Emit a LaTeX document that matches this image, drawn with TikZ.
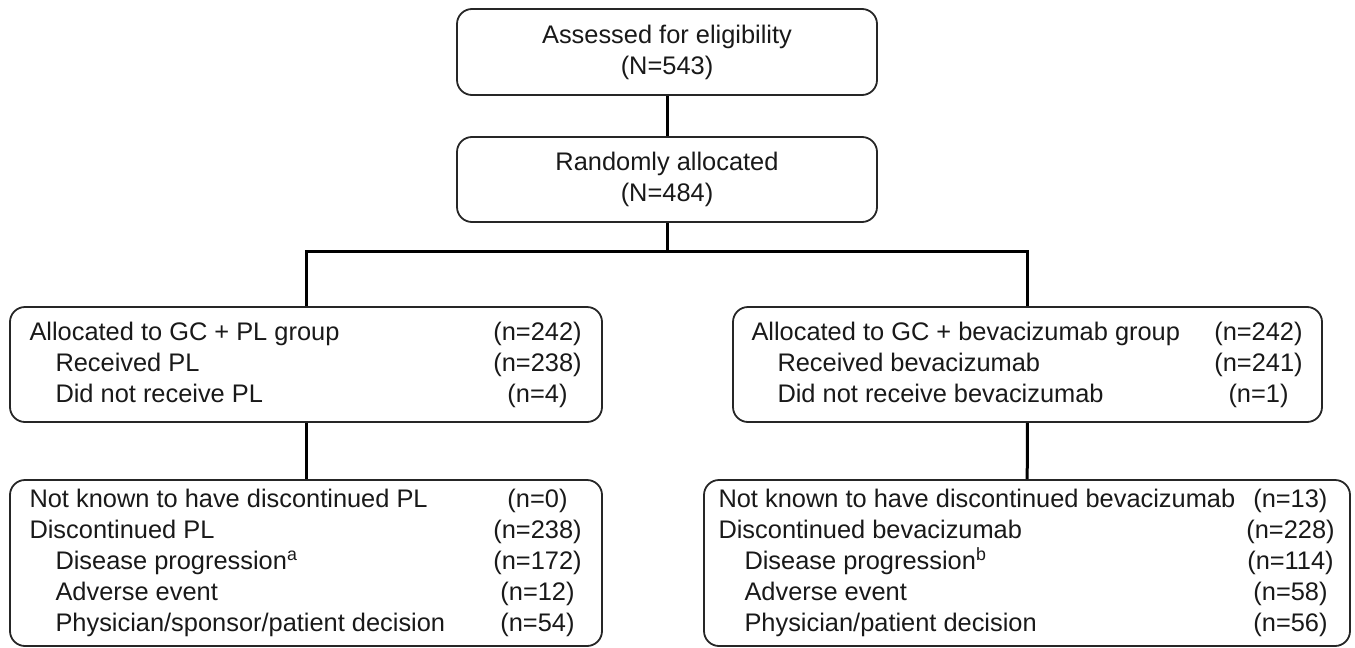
\documentclass[tikz,border=0pt]{standalone}
\usepackage{fontspec}
\setmainfont{Liberation Sans}
\usepackage{tikz}
\usetikzlibrary{positioning}

% one line of a box: label on the left, count centred in its own column
\newcommand{\cntrow}[3]{\makebox[#1][l]{#2}\makebox[90pt][c]{#3}}
\newcommand{\ind}{\hspace*{26pt}}

\begin{document}
\begin{tikzpicture}[
            x=1pt, y=-1pt,
            box/.style={rectangle, rounded corners=15pt, draw=black!85, line width=1.8pt, inner sep=0pt,
                font=\fontsize{25.4}{31}\selectfont, text=black!90},
            flowbox/.style={box, align=center},
            listbox/.style={box, align=left},
            link/.style={draw, line width=3pt, black}
        ]
        \useasboundingbox (0,0) rectangle (1355,648);

        \node[flowbox, minimum width=420pt, minimum height=86pt] (assess) at (667,52) {Assessed for eligibility\\(N=543)};
        \node[flowbox, minimum width=420pt, minimum height=85pt] (rand) at (667,179.5) {Randomly allocated\\(N=484)};

        % Allocation boxes
        \node[listbox, minimum width=592pt, minimum height=115pt] (gcpl) at (306,364.5) {%
            \cntrow{463pt}{Allocated to GC + PL group}{(n=242)}\\
            \cntrow{463pt}{\ind Received PL}{(n=238)}\\
            \cntrow{463pt}{\ind Did not receive PL}{(n=4)}};
        \node[listbox, minimum width=589pt, minimum height=115pt] (gcbev) at (1027.5,364.5) {%
            \cntrow{462pt}{Allocated to GC + bevacizumab group}{(n=242)}\\
            \cntrow{462pt}{\ind Received bevacizumab}{(n=241)}\\
            \cntrow{462pt}{\ind Did not receive bevacizumab}{(n=1)}};

        % Discontinuation boxes
        \node[listbox, minimum width=592pt, minimum height=166pt] (dcpl) at (306,563) {%
            \cntrow{463pt}{Not known to have discontinued PL}{(n=0)}\\
            \cntrow{463pt}{Discontinued PL}{(n=238)}\\
            \cntrow{463pt}{\ind Disease progression\textsuperscript{a}}{(n=172)}\\
            \cntrow{463pt}{\ind Adverse event}{(n=12)}\\
            \cntrow{463pt}{\ind Physician/sponsor/patient decision}{(n=54)}};
        \node[listbox, minimum width=646pt, minimum height=166pt] (dcbev) at (1027,563) {%
            \cntrow{527pt}{Not known to have discontinued bevacizumab}{(n=13)}\\
            \cntrow{527pt}{Discontinued bevacizumab}{(n=228)}\\
            \cntrow{527pt}{\ind Disease progression\textsuperscript{b}}{(n=114)}\\
            \cntrow{527pt}{\ind Adverse event}{(n=58)}\\
            \cntrow{527pt}{\ind Physician/patient decision}{(n=56)}};

        \coordinate (split) at (667,251);

        \draw[link] (assess) -- (rand);
        \draw[link] (rand) -- (split);
        \draw[link] (gcpl.north) |- (split) -| (gcbev.north);
        \draw[link] (gcpl) -- (dcpl);
        \draw[link] (gcbev) -- (dcbev);

    \end{tikzpicture}
\end{document}
